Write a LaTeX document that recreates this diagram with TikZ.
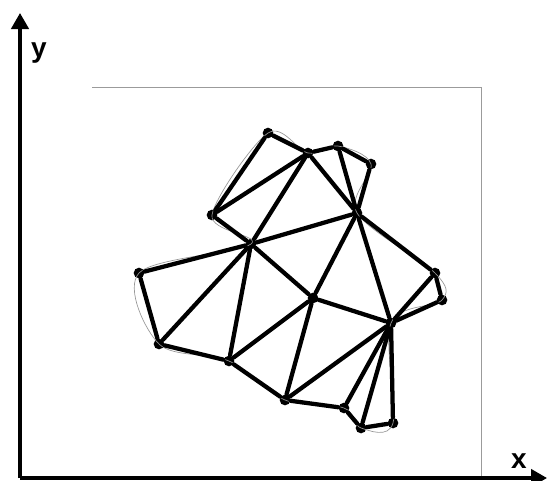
\documentclass[tikz,border=0pt]{standalone}
\usepackage{fontspec}
\setmainfont{Liberation Sans}
\usetikzlibrary{arrows.meta}

\tikzset{every picture/.style={line width=0.75pt}}
\tikzset{
  vertex/.style={circle,fill=black,inner sep=0pt,minimum size=8pt},
  edge/.style={line width=3.2pt,line cap=round},
  outline/.style={color={rgb, 255:red, 150; green, 150; blue, 150 },line width=0.5pt},
  axis/.style={line width=2.6pt,-{Triangle[length=12pt,width=13pt]}},
  axislabel/.style={font=\bfseries\fontsize{21}{24}\selectfont,inner sep=0.75pt}
}

\begin{document}
\begin{tikzpicture}[x=0.75pt,y=0.75pt,yscale=-1,xscale=1]
\useasboundingbox (0,0) rectangle (548,480);

%Shape: Rectangle
\draw [color={rgb, 255:red, 155; green, 155; blue, 155 }] (92,87) -- (481,87) -- (481,478) -- (92,478) ;

% Vertices
\node [vertex] (a) at (268,133) {};
\node [vertex] (b) at (308,153) {};
\node [vertex] (c) at (338,146) {};
\node [vertex] (d) at (371,164) {};
\node [vertex] (e) at (212,215) {};
\node [vertex] (f) at (357,213) {};
\node [vertex] (g) at (251,244) {};
\node [vertex] (h) at (139,273) {};
\node [vertex] (i) at (435,273) {};
\node [vertex] (j) at (442,300) {};
\node [vertex] (k) at (313,298) {};
\node [vertex] (l) at (391,323) {};
\node [vertex] (m) at (159,344) {};
\node [vertex] (n) at (229,361) {};
\node [vertex] (o) at (285,400) {};
\node [vertex] (p) at (344,408) {};
\node [vertex] (q) at (361,428) {};
\node [vertex] (r) at (393,423) {};

%Shape: smooth outline
\draw [outline] plot [smooth cycle, tension=0.55] coordinates {(a) (b) (c) (d) (f) (i) (j) (l) (r) (q) (p) (o) (n) (m) (h) (g) (e)};

%Straight Lines
\draw [edge] (a) -- (b) ;
\draw [edge] (a) -- (e) ;
\draw [edge] (b) -- (c) ;
\draw [edge] (c) -- (d) ;
\draw [edge] (b) -- (e) ;
\draw [edge] (b) -- (g) ;
\draw [edge] (b) -- (f) ;
\draw [edge] (c) -- (f) ;
\draw [edge] (d) -- (f) ;
\draw [edge] (e) -- (g) ;
\draw [edge] (g) -- (f) ;
\draw [edge] (g) -- (h) ;
\draw [edge] (g) -- (m) ;
\draw [edge] (g) -- (n) ;
\draw [edge] (g) -- (k) ;
\draw [edge] (h) -- (m) ;
\draw [edge] (m) -- (n) ;
\draw [edge] (n) -- (k) ;
\draw [edge] (n) -- (o) ;
\draw [edge] (f) -- (k) ;
\draw [edge] (f) -- (l) ;
\draw [edge] (f) -- (i) ;
\draw [edge] (i) -- (j) ;
\draw [edge] (i) -- (l) ;
\draw [edge] (j) -- (l) ;
\draw [edge] (k) -- (l) ;
\draw [edge] (k) -- (o) ;
\draw [edge] (l) -- (o) ;
\draw [edge] (l) -- (p) ;
\draw [edge] (l) -- (q) ;
\draw [edge] (l) -- (r) ;
\draw [edge] (o) -- (p) ;
\draw [edge] (p) -- (q) ;
\draw [edge] (q) -- (r) ;

%Axes
\coordinate (origin) at (20,478) ;
\coordinate (ytip) at (20,13) ;
\coordinate (xtip) at (547,478) ;
\draw [axis] (origin) -- (ytip) ;
\draw [axis] (origin) -- (xtip) ;

% Text Node
\node [axislabel] (ylabel) at (39,53) {y};
% Text Node
\node [axislabel] (xlabel) at (519,461) {x};

\end{tikzpicture}
\end{document}
